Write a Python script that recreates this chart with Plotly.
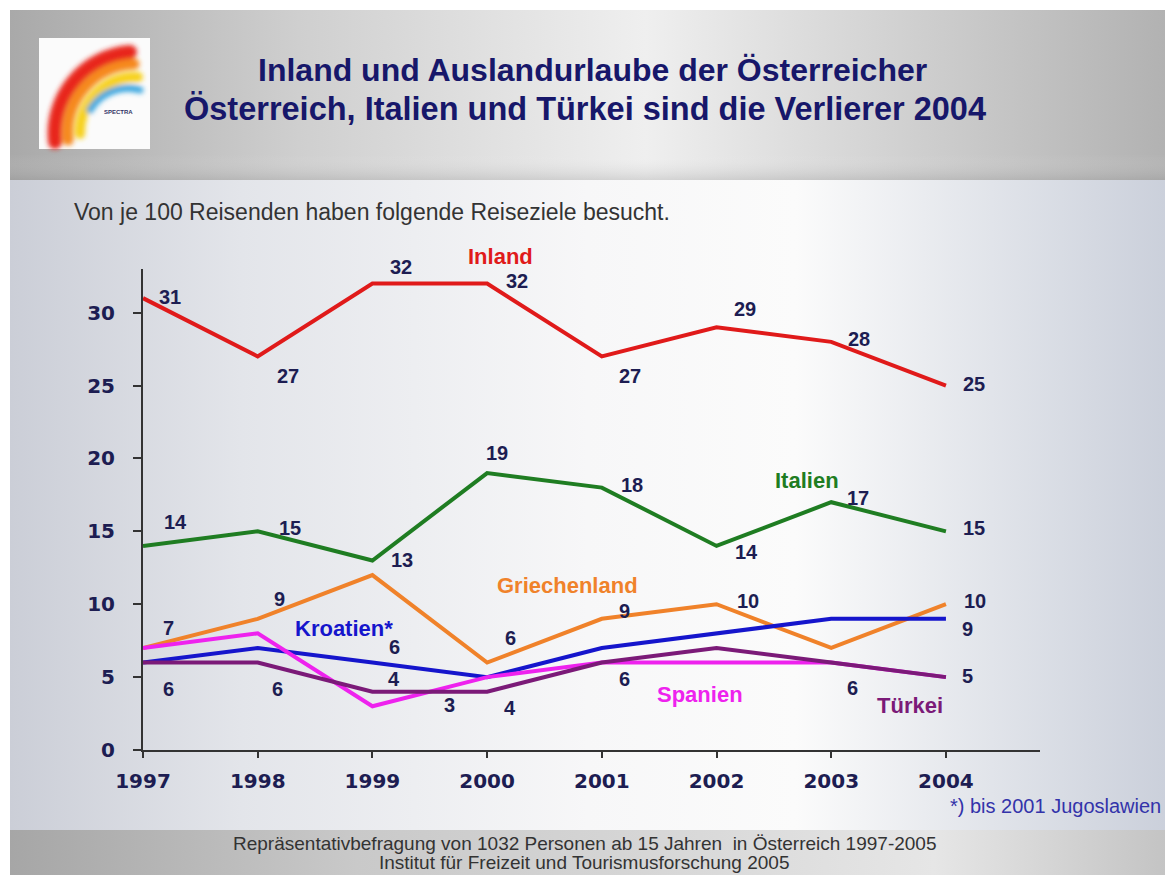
import base64
import plotly.graph_objects as go

# ---------------- data ----------------
years = [1997, 1998, 1999, 2000, 2001, 2002, 2003, 2004]
inland = [31, 27, 32, 32, 27, 29, 28, 25]
italien = [14, 15, 13, 19, 18, 14, 17, 15]
griechenland = [7, 9, 12, 6, 9, 10, 7, 10]
kroatien = [6, 7, 6, 5, 7, 8, 9, 9]
spanien = [7, 8, 3, 5, 6, 6, 6, 5]
tuerkei = [6, 6, 4, 4, 6, 7, 6, 5]
y_ticks = [0, 5, 10, 15, 20, 25, 30]

title_1 = "Inland und Auslandurlaube der Österreicher"
title_2 = "Österreich, Italien und Türkei sind die Verlierer 2004"
subtitle = "Von je 100 Reisenden haben folgende Reiseziele besucht."
footnote = "*) bis 2001 Jugoslawien"
source_1 = "Repräsentativbefragung von 1032 Personen ab 15 Jahren  in Österreich 1997-2005"
source_2 = "Institut für Freizeit und Tourismusforschung 2005"

W, H = 1165, 875
NUM_COLOR = "#1d1d52"
FONT = "Liberation Sans, Arial, sans-serif"
WIDE = "DejaVu Sans, sans-serif"

series = [
    ("Griechenland", griechenland, "#f0822a", 4, (-34, 33),
     [(0, 25, 20), (1, 22, 20), (3, 23, 25), (4, 23, 8), (5, 31, 3), (7, 29, 3)]),
    ("Kroatien*", kroatien, "#1515cc", 2, (-28, 34),
     [(2, 22, 16), (7, 22, -10)]),
    ("Spanien", spanien, "#ee22ee", 5, (-17, -32),
     [(2, 77, 1), (4, 23, -16)]),
    ("Türkei", tuerkei, "#7b1a78", 7, (-36, -28),
     [(0, 25, -26), (1, 20, -26), (2, 22, 13), (3, 23, -16), (6, 21, -25), (7, 22, 1)]),
    ("Italien", italien, "#1f7d22", 6, (-24, 22),
     [(0, 32, 24), (1, 32, 3), (2, 30, 1), (3, 10, 20), (4, 30, 3), (5, 30, -6), (6, 27, 4), (7, 28, 3)]),
    ("Inland", inland, "#e01a1a", 3, (13, 27),
     [(0, 27, 1), (1, 30, -20), (2, 29, 17), (3, 30, 3), (4, 28, -20), (5, 28, 18), (6, 28, 3), (7, 28, 2)]),
]

svg = f'''<svg xmlns="http://www.w3.org/2000/svg" width="{W}" height="{H}" viewBox="0 0 {W} {H}" preserveAspectRatio="none">
<defs>
 <linearGradient id="hdr" x1="0" y1="0" x2="1" y2="0">
  <stop offset="0" stop-color="#a9a9a9"/>
  <stop offset="0.25" stop-color="#cfcfcf"/>
  <stop offset="0.55" stop-color="#efefef"/>
  <stop offset="0.8" stop-color="#cdcdcd"/>
  <stop offset="1" stop-color="#b2b2b2"/>
 </linearGradient>
 <linearGradient id="hdrv" x1="0" y1="0" x2="0" y2="1">
  <stop offset="0" stop-color="#ffffff" stop-opacity="0"/>
  <stop offset="0.85" stop-color="#ffffff" stop-opacity="0"/>
  <stop offset="1" stop-color="#888888" stop-opacity="0.25"/>
 </linearGradient>
 <linearGradient id="body" x1="0" y1="0" x2="1" y2="0">
  <stop offset="0" stop-color="#cbced7"/>
  <stop offset="0.2" stop-color="#e3e5ea"/>
  <stop offset="0.5" stop-color="#f7f7f8"/>
  <stop offset="0.68" stop-color="#fbfbfb"/>
  <stop offset="0.85" stop-color="#e1e4ea"/>
  <stop offset="1" stop-color="#cbd0db"/>
 </linearGradient>
 <linearGradient id="foot" x1="0" y1="0" x2="1" y2="0">
  <stop offset="0" stop-color="#a6a6a6"/>
  <stop offset="0.3" stop-color="#c9c9c9"/>
  <stop offset="0.55" stop-color="#d6d6d6"/>
  <stop offset="0.8" stop-color="#e6e6e6"/>
  <stop offset="1" stop-color="#c4c4c4"/>
 </linearGradient>
 <filter id="blur" x="-20%" y="-20%" width="140%" height="140%"><feGaussianBlur stdDeviation="2.5"/></filter>
</defs>
<rect x="0" y="0" width="{W}" height="{H}" fill="#ffffff"/>
<rect x="10" y="10" width="{W-10}" height="170" fill="url(#hdr)"/>
<rect x="10" y="10" width="{W-10}" height="170" fill="url(#hdrv)"/>
<rect x="10" y="180" width="{W-10}" height="650" fill="url(#body)"/>
<rect x="10" y="830" width="{W-10}" height="45" fill="url(#foot)"/>
<rect x="39" y="38" width="111" height="111" fill="#fbfbfb"/>
<g filter="url(#blur)" fill="none" stroke-linecap="round">
 <path d="M 55 142 A 82 82 0 0 1 130 52" stroke="#e8261c" stroke-width="14"/>
 <path d="M 68 140 A 69 69 0 0 1 134 64" stroke="#f6891f" stroke-width="11"/>
 <path d="M 80 134 A 56 56 0 0 1 138 77" stroke="#f7d11c" stroke-width="10"/>
 <path d="M 90 110 A 44 44 0 0 1 140 90" stroke="#3aa7e0" stroke-width="7"/>
</g>
</svg>'''
svg_uri = "data:image/svg+xml;base64," + base64.b64encode(svg.encode("utf-8")).decode()

fig = go.Figure()
for name, vals, color, _, _, _ in series:
    fig.add_trace(go.Scatter(x=years, y=vals, mode="lines", name=name,
                             line=dict(color=color, width=4), showlegend=False))

annotations = []
for name, vals, color, ni, (nx, ny), labels in series:
    for idx, dx, dy in labels:
        annotations.append(dict(x=years[idx], y=vals[idx], xref="x", yref="y", text=f"<b>{vals[idx]}</b>",
                                showarrow=False, xshift=dx, yshift=dy, xanchor="center", yanchor="middle",
                                font=dict(size=20, color=NUM_COLOR, family=FONT)))
    annotations.append(dict(x=years[ni], y=vals[ni], xref="x", yref="y", text=f"<b>{name}</b>",
                            showarrow=False, xshift=nx, yshift=ny, xanchor="center", yanchor="middle",
                            font=dict(size=22, color=color, family=FONT)))

def px_x(p):
    return p / W

def px_y(p):
    return 1 - p / H

def paper_text(x, y, text, size, color, bold=False, xanchor="center"):
    return dict(x=px_x(x), y=px_y(y), xref="paper", yref="paper",
                text=f"<b>{text}</b>" if bold else text, showarrow=False,
                xanchor=xanchor, yanchor="middle",
                font=dict(size=size, color=color, family=FONT))

annotations += [
    paper_text(592, 70, title_1, 32, "#17176a", bold=True),
    paper_text(585, 109, title_2, 32.5, "#17176a", bold=True),
    paper_text(72, 212, subtitle, 23, "#333333", xanchor="left"),
    paper_text(1163, 806, footnote, 20, "#3333aa", xanchor="right"),
    paper_text(584, 843, source_1, 19, "#333333"),
    paper_text(584, 862, source_2, 19, "#333333"),
    paper_text(119, 112, "SPECTRA", 6, "#333366", bold=True),
]

fig.update_layout(
    width=W, height=H,
    autosize=False,
    margin=dict(l=0, r=0, t=0, b=0, pad=0, autoexpand=False),
    paper_bgcolor="#ffffff",
    plot_bgcolor="rgba(0,0,0,0)",
    images=[dict(source=svg_uri, xref="paper", yref="paper", x=0, y=1, sizex=1, sizey=1,
                 sizing="stretch", layer="below", xanchor="left", yanchor="top")],
    annotations=annotations,
    xaxis=dict(domain=[px_x(143), px_x(1040)], range=[1997, 2004.82], automargin=False,
               tickvals=years, ticktext=[f"<b>{y}</b>" for y in years],
               showline=True, linecolor="#333333", linewidth=2,
               ticks="outside", ticklen=6, tickwidth=1.5, tickcolor="#333333",
               ticklabelstandoff=6,
               tickfont=dict(size=20, color=NUM_COLOR, family=WIDE),
               showgrid=False, zeroline=False, fixedrange=True),
    yaxis=dict(domain=[px_y(750), px_y(269)], range=[0, 33], automargin=False,
               tickvals=y_ticks, ticktext=[f"<b>{v}</b>" for v in y_ticks],
               showline=True, linecolor="#333333", linewidth=2,
               ticks="outside", ticklen=8, tickwidth=1.5, tickcolor="#333333",
               ticklabelstandoff=14,
               tickfont=dict(size=20, color=NUM_COLOR, family=WIDE),
               showgrid=False, zeroline=False, fixedrange=True),
)

fig.write_html("out.html", config={"displayModeBar": False},
               post_script="document.body.style.margin='0';")
